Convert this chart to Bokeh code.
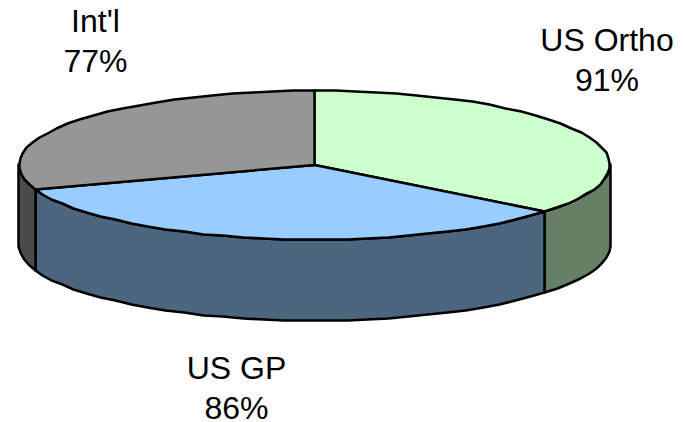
import numpy as np
from bokeh.core.properties import value
from bokeh.embed import file_html
from bokeh.models import Range1d
from bokeh.plotting import figure
from bokeh.resources import INLINE

# Slices run clockwise from twelve o'clock
categories = ["US Ortho", "US GP", "Int'l"]
percents = [91, 86, 77]
top_colors = ["#CCFFCC", "#99CCFF", "#969696"]
side_colors = ["#668066", "#4D6680", "#4B4B4B"]

# Label placement in pixels: centre x, vertical middle of each text line
label_x = [606.5, 236, 95]
label_y = [39, 367.5, 20]

# Tilted disc geometry in pixels
CX, CY = 314, 164.5
RX, RY = 295.5, 74.5
DEPTH = 81


def rim(a0, a1, drop=0.0):
    """Points on the disc rim between two clockwise angles from the top, in degrees.

    Vertices are snapped to whole pixels, which gives the rim its stepped outline.
    """
    n = max(2, int(abs(a1 - a0) / 4) + 1)
    t = np.radians(np.linspace(a0, a1, n))
    return np.round(CX + RX * np.sin(t)), np.round(CY - RY * np.cos(t) + drop)


total = sum(percents)
edges = np.concatenate([[0], np.cumsum(percents) / total * 360])

p = figure(
    width=683, height=422, output_backend="svg", toolbar_location=None,
    x_range=Range1d(0, 683), y_range=Range1d(422, 0),
    min_border=0, outline_line_color=None, border_fill_color="white",
    background_fill_color="white",
)
p.axis.visible = False
p.grid.visible = False

# Outer wall: only the part of each slice facing the viewer (90 to 270 degrees)
for a0, a1, col in zip(edges[:-1], edges[1:], side_colors):
    lo, hi = max(a0, 90), min(a1, 270)
    if lo >= hi:
        continue
    tx, ty = rim(lo, hi)
    bx, by = rim(hi, lo, DEPTH)
    p.patch(np.r_[tx, bx], np.r_[ty, by], fill_color=col, line_color="black",
            line_width=2.5, line_join="round")

# Top face wedges
for a0, a1, col in zip(edges[:-1], edges[1:], top_colors):
    rx_, ry_ = rim(a0, a1)
    p.patch(np.r_[CX, rx_], np.r_[CY, ry_], fill_color=col, line_color="black",
            line_width=2.5, line_join="round")

# Two-line labels: category name above its percentage
font = value("Liberation Sans")
for name, pct, x, y in zip(categories, percents, label_x, label_y):
    p.text([x], [y], text=[name], text_font=font, text_font_size="32px",
           text_align="center", text_baseline="middle", text_color="black")
    p.text([x], [y + 40], text=[f"{pct}%"], text_font=font, text_font_size="32px",
           text_align="center", text_baseline="middle", text_color="black")

open("out.html", "w").write(file_html(p, INLINE))
